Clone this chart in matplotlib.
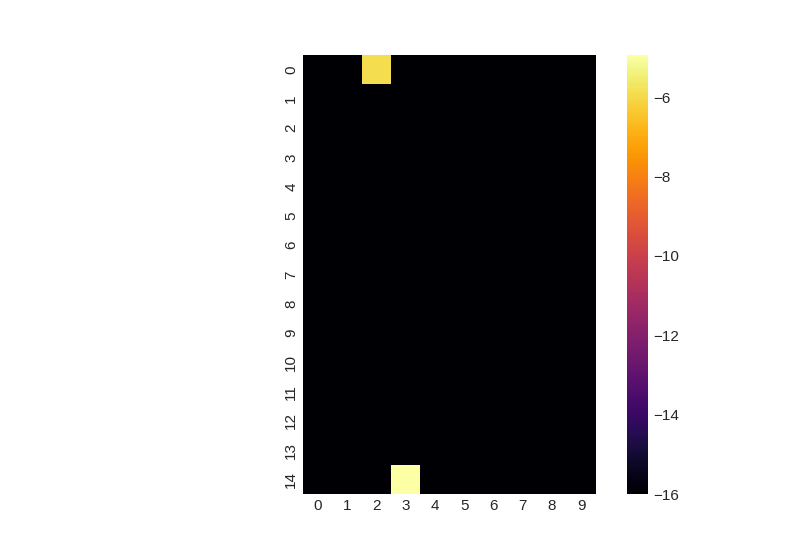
import matplotlib
matplotlib.use("Agg")

import matplotlib.pyplot as plt
import numpy as np
import seaborn as sns

# ── Data ─────────────────────────────────────────────── #
n_rows = 15
n_cols = 10
floor_value = -16.0
hot_cells = [(0, 2), (14, 3)]
hot_values = [-5.9, -4.94]

values = np.full((n_rows, n_cols), floor_value)
for (r, c), v in zip(hot_cells, hot_values):
    values[r, c] = v

row_labels = [str(i) for i in range(n_rows)]
col_labels = [str(i) for i in range(n_cols)]

# ── Style ────────────────────────────────────────────── #
sns.set_theme(style="white")
plt.rcParams["font.family"] = ["Liberation Sans", "DejaVu Sans"]

fig = plt.figure(figsize=(8, 5.5), dpi=100)
ax = fig.add_axes([303 / 800, 56 / 550, 293 / 800, 439 / 550])
cax = fig.add_axes([627 / 800, 56 / 550, 21 / 800, 439 / 550])

sns.heatmap(values, ax=ax, cbar_ax=cax, cmap="inferno",
            vmin=floor_value, vmax=max(hot_values),
            xticklabels=col_labels, yticklabels=row_labels)

ax.set_yticklabels(row_labels, rotation=90, va="center")
ax.set_xticklabels(col_labels, rotation=0)
ax.tick_params(length=0, labelsize=11)
cax.tick_params(length=0, labelsize=11)
cax.set_yticks([-16, -14, -12, -10, -8, -6])
cax.set_yticklabels(["\u221216", "\u221214", "\u221212", "\u221210", "\u22128", "\u22126"])

fig.savefig("out.png", dpi=100)
